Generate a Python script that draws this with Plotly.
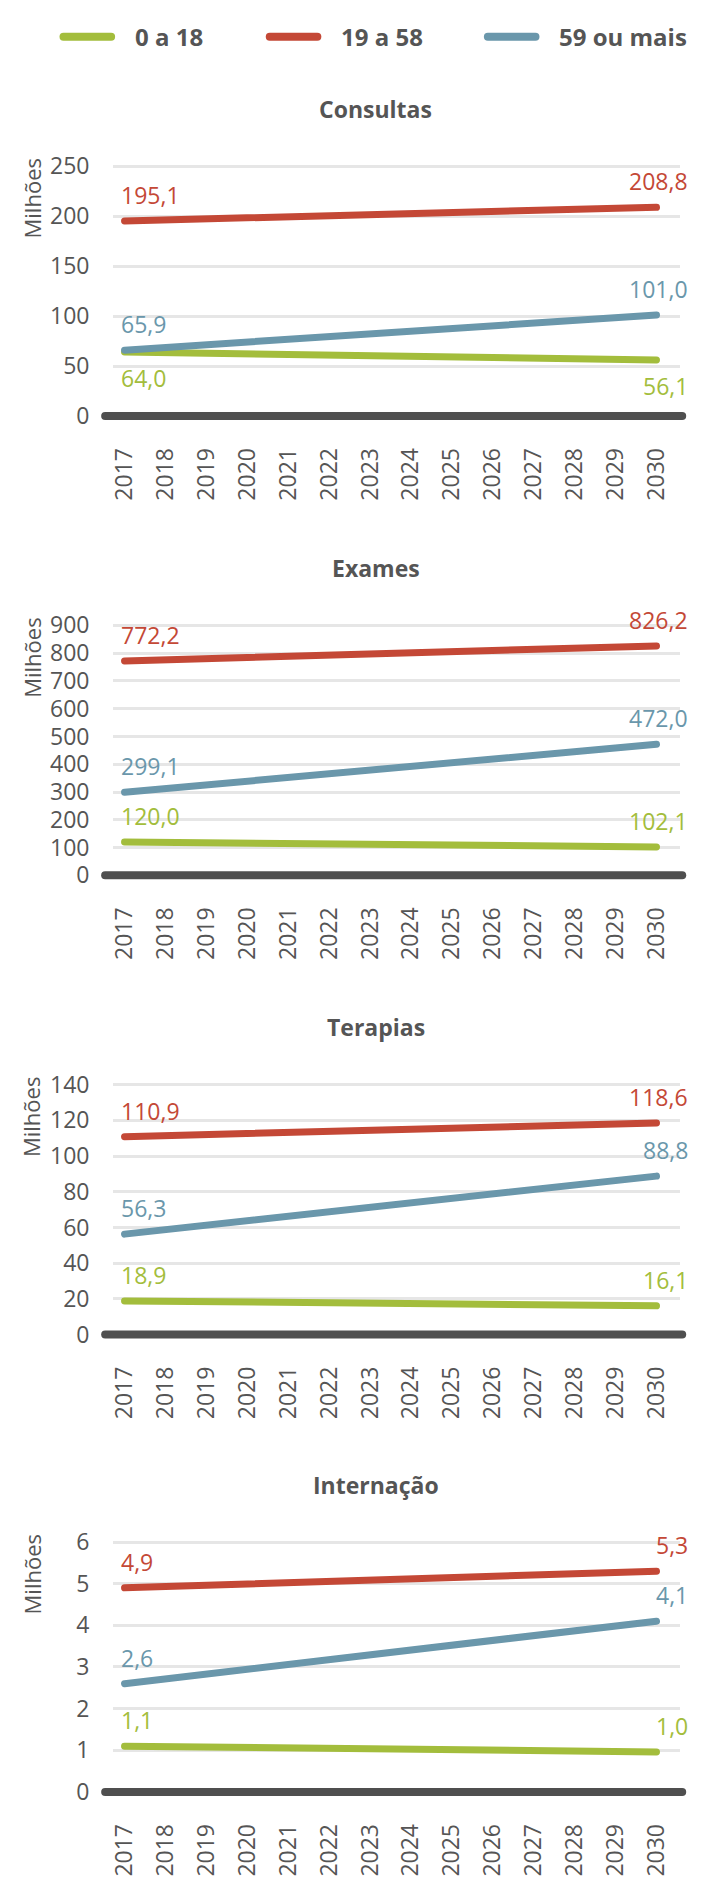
import plotly.graph_objects as go

# ---------------- data ----------------
years = list(range(2017, 2031))
endpoint_years = [2017, 2030]
series_names = ["0 a 18", "19 a 58", "59 ou mais"]
series_colors = ["#a3bd3c", "#c44836", "#6a97ab"]
panel_titles = ["Consultas", "Exames", "Terapias", "Internação"]

consultas_0_18 = [64.0, 56.1]
consultas_19_58 = [195.1, 208.8]
consultas_59_mais = [65.9, 101.0]

exames_0_18 = [120.0, 102.1]
exames_19_58 = [772.2, 826.2]
exames_59_mais = [299.1, 472.0]

terapias_0_18 = [18.9, 16.1]
terapias_19_58 = [110.9, 118.6]
terapias_59_mais = [56.3, 88.8]

internacao_0_18 = [1.1, 0.96]
internacao_19_58 = [4.9, 5.3]
internacao_59_mais = [2.6, 4.1]

y_tops = [250, 900, 140, 6]
y_dticks = [50, 100, 20, 1]

panels = [
    [consultas_0_18, consultas_19_58, consultas_59_mais],
    [exames_0_18, exames_19_58, exames_59_mais],
    [terapias_0_18, terapias_19_58, terapias_59_mais],
    [internacao_0_18, internacao_19_58, internacao_59_mais],
]
# label above (+1) or below (-1) the line, per panel/series
label_side = [
    [-1, 1, 1],
    [1, 1, 1],
    [1, 1, 1],
    [1, 1, 1],
]

# ---------------- layout geometry (pixels) ----------------
W, H = 706, 1877
FONT = "Open Sans, Noto Sans, sans-serif"
TXT = "#555555"
top_px = [154, 619, 1084, 1547]
plot_h = 253
x_left, x_right = 108, 680


def py(px):
    return 1 - px / H


def fmt(v):
    return f"{v:.1f}".replace(".", ",")


fig = go.Figure()
annotations = []
shapes = []

for i, series in enumerate(panels):
    ax = "" if i == 0 else str(i + 1)
    T = top_px[i]
    z = T + plot_h
    top = y_tops[i]
    ppu = plot_h / top
    for k, vals in enumerate(series):
        fig.add_trace(go.Scatter(
            x=endpoint_years, y=vals, mode="lines",
            line=dict(color=series_colors[k], width=7),
            name=series_names[k], showlegend=False,
            xaxis="x" + ax, yaxis="y" + ax, hoverinfo="skip",
        ))
        for j in range(2):
            annotations.append(dict(
                x=endpoint_years[j], y=vals[j], xref="x" + ax, yref="y" + ax,
                text=fmt(vals[j]), showarrow=False,
                xanchor="left" if j == 0 else "right",
                xshift=-6 if j == 0 else 34,
                yanchor="middle", yshift=26 * label_side[i][k],
                font=dict(family=FONT, size=23, color=series_colors[k]),
            ))
    fig.update_layout(**{
        "xaxis" + ax: dict(
            domain=[x_left / W, x_right / W],
            range=[2016.72, 2030.58],
            anchor="y" + ax,
            tickmode="array", tickvals=years, ticktext=[str(y) for y in years],
            tickangle=-90, showgrid=False, zeroline=False, showline=False,
            ticks="outside", ticklen=10, tickcolor="rgba(0,0,0,0)",
            tickfont=dict(family=FONT, size=23, color=TXT),
            fixedrange=True,
        ),
        "yaxis" + ax: dict(
            domain=[py(z + 12), py(T - 3)],
            range=[-12 / ppu, top + 3 / ppu],
            anchor="x" + ax,
            tickmode="array", tickvals=list(range(0, top + 1, y_dticks[i])),
            showgrid=True, gridcolor="#e6e6e6", gridwidth=3,
            zeroline=False, showline=False,
            ticks="outside", ticklen=18, tickcolor="rgba(0,0,0,0)",
            tickfont=dict(family=FONT, size=23, color=TXT),
            fixedrange=True,
        ),
    })
    # zero baseline
    shapes.append(dict(
        type="line", xref="paper", yref="y" + ax,
        x0=100 / W, x1=682 / W, y0=0, y1=0,
        line=dict(color="#4f4f4f", width=8),
    ))
    # panel title
    annotations.append(dict(
        x=373 / W, y=py(T - 58), xref="paper", yref="paper",
        text="<b>" + panel_titles[i] + "</b>", showarrow=False,
        xanchor="center", yanchor="middle",
        font=dict(family=FONT, size=23, color=TXT),
    ))
    # y axis title
    annotations.append(dict(
        x=26 / W, y=py(T + 33), xref="paper", yref="paper",
        text="Milhões", showarrow=False, textangle=-90,
        xanchor="center", yanchor="middle",
        font=dict(family=FONT, size=22, color=TXT),
    ))

# manual legend
legend_x = [58, 266, 486]
for k in range(3):
    shapes.append(dict(
        type="line", xref="paper", yref="paper",
        x0=legend_x[k] / W, x1=(legend_x[k] + 48) / W,
        y0=py(23), y1=py(23),
        line=dict(color=series_colors[k], width=8),
    ))
    annotations.append(dict(
        x=(legend_x[k] + 70) / W, y=py(23), xref="paper", yref="paper",
        text="<b>" + series_names[k] + "</b>", showarrow=False,
        xanchor="left", yanchor="middle",
        font=dict(family=FONT, size=24, color=TXT),
    ))

fig.update_layout(
    width=W, height=H,
    margin=dict(l=0, r=0, t=0, b=0),
    paper_bgcolor="white", plot_bgcolor="white",
    showlegend=False,
    annotations=annotations, shapes=shapes,
)

fig.write_html(
    "out.html",
    config={"displayModeBar": False},
    post_script=(
        "document.body.style.margin='0';"
        "document.querySelectorAll('.js-line, .shapelayer path').forEach("
        "function(p){p.style.strokeLinecap='round';});"
    ),
)
